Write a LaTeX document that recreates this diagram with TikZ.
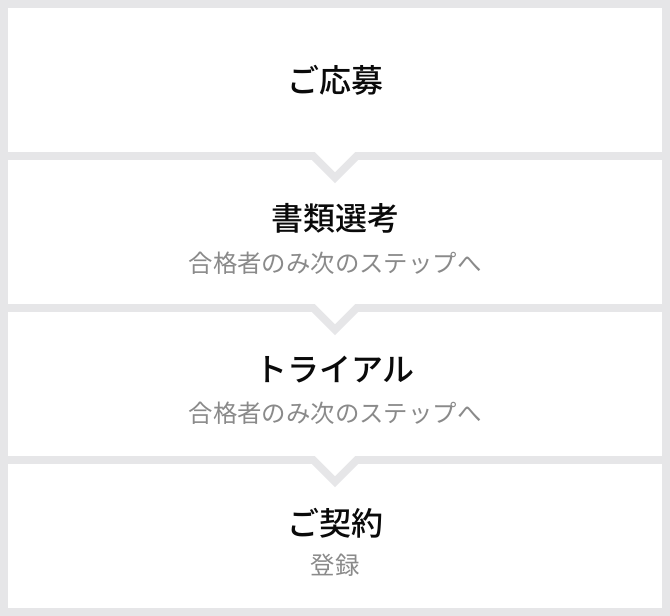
\documentclass[tikz,border=0pt]{standalone}
\usepackage{fontspec}
\newfontfamily\jpfont{Noto Sans CJK JP}[BoldFont={Noto Sans CJK JP Medium}]
\usepackage{tikz}
\usetikzlibrary{calc}
\definecolor{bandgray}{HTML}{E6E6E8}
\definecolor{subgray}{HTML}{8A8A8A}
\definecolor{titleblack}{HTML}{0A0A0A}
\tikzset{stepbox/.style={rectangle, fill=white, inner sep=0, minimum width=654pt, minimum height=144pt}}

\begin{document}
\begin{tikzpicture}[x=1pt, y=-1pt]
\tikzstyle{titletext} = [inner sep=0, text=titleblack, font=\jpfont\bfseries\fontsize{32}{38}\selectfont]
\tikzstyle{subtext} = [inner sep=0, text=subgray, font=\jpfont\fontsize{24.4}{29}\selectfont]

\fill [bandgray] (0,0) rectangle (670,616);
\useasboundingbox (0,0) rectangle (670,616);

\node [stepbox](apply) at (335,80){};
\node [stepbox](screening) at (335,232){};
\node [stepbox](trial) at (335,384){};
\node [stepbox](contract) at (335,536){};

% notches between the steps
\foreach \upper in {apply, screening, trial}{
  \fill [bandgray] (\upper.south) ++(-23,8) -- ++(23,23) -- ++(23,-23) -- cycle;
  \fill [white] (\upper.south) ++(-20,0) -- ++(20,20) -- ++(20,-20) -- cycle;
}

\node [titletext](apply_title) at (apply.center){ご応募};
\node [titletext](screening_title) at ($(screening.center)+(0,-14)$){書類選考};
\node [subtext](screening_note) at ($(screening.center)+(0,31)$){合格者のみ次のステップへ};
\node [titletext](trial_title) at ($(trial.center)+(0,-14)$){トライアル};
\node [subtext](trial_note) at ($(trial.center)+(0,29)$){合格者のみ次のステップへ};
\node [titletext](contract_title) at ($(contract.center)+(0,-13)$){ご契約};
\node [subtext](contract_note) at ($(contract.center)+(0,29)$){登録};

\end{tikzpicture}
\end{document}
